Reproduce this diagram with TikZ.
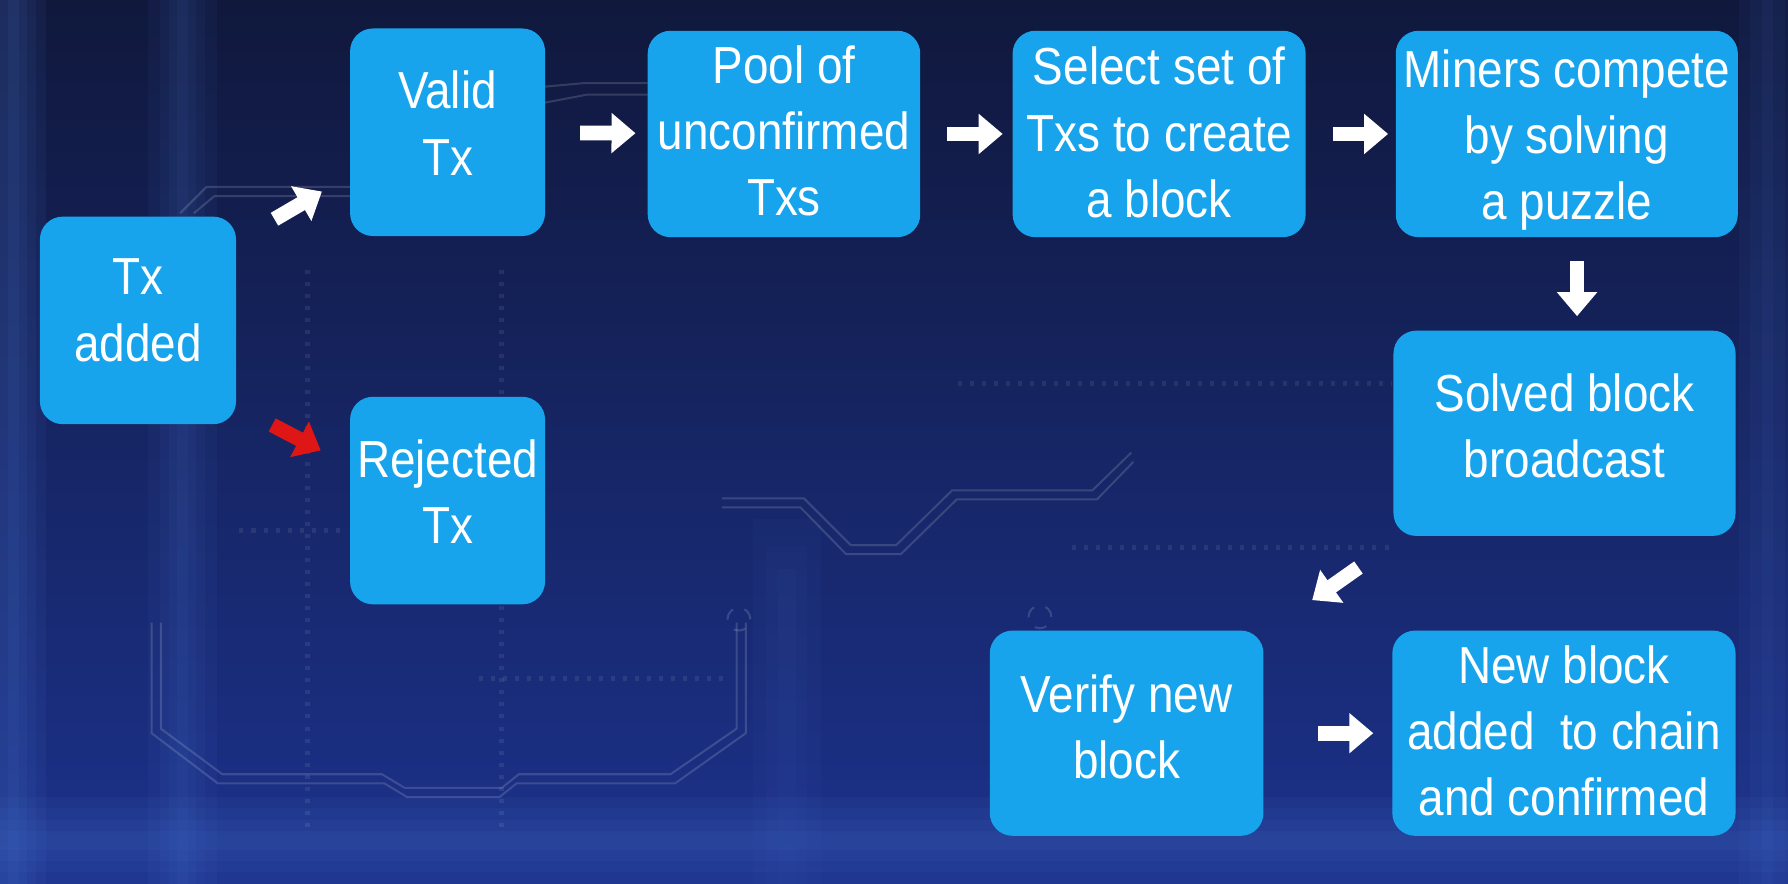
\documentclass[tikz,border=0pt]{standalone}
\usepackage{fontspec}
\newfontfamily\boxfont{Liberation Sans}[FakeStretch=0.88]
\usepackage{xcolor}
\usetikzlibrary{arrows.meta,positioning,calc}
\definecolor{boxblue}{RGB}{24,164,236}
\definecolor{bgtop}{RGB}{16,24,60}
\definecolor{bgmid}{RGB}{20,32,84}
\definecolor{bgbot}{RGB}{28,50,140}
\definecolor{stripe}{RGB}{80,125,215}
\definecolor{rejred}{RGB}{222,22,22}

\begin{document}
\begin{tikzpicture}[
		stepbox/.style={fill=boxblue,rounded corners=0.2cm,align=center,text=white,
			font=\boxfont\fontsize{13}{16.5}\selectfont,inner sep=0pt},
		lift/.style={execute at end node={\rule[-#1]{0pt}{#1}}},
		sink/.style={execute at end node={\rule{0pt}{#1}}},
		flow/.style={-{Triangle[length=0.21cm,width=0.34cm]},line width=0.13cm,white},
		trace/.style={white,opacity=0.15,line width=0.5pt},
		dots/.style={white,opacity=0.08,line width=1.2pt,dash pattern=on 1pt off 2pt}]
		\useasboundingbox (0,0) rectangle (15.68,7.75);
		% background
		\shade[top color=bgtop,middle color=bgmid,bottom color=bgbot] (0,0) rectangle (15.68,7.75);
		\foreach \w in {0.05,0.12,0.2,0.28}
			\fill[stripe,opacity=0.08] (0.12-\w,0) rectangle (0.12+\w,7.75);
		\foreach \w in {0.05,0.12,0.2,0.3}
			\fill[stripe,opacity=0.06] (1.6-\w,0) rectangle (1.6+\w,7.75);
		\foreach \w in {0.08,0.18,0.3}
			\fill[stripe,opacity=0.04] (6.9-\w,0) rectangle (6.9+\w,2.6+2*\w);
		\foreach \w in {0.05,0.15,0.25}
			\fill[stripe,opacity=0.06] (15.5-\w,0) rectangle (15.5+\w,7.75);
		\foreach \h in {0.08,0.18,0.28,0.38}
			\fill[stripe,opacity=0.07] (0,0.38-\h) rectangle (15.68,0.38+\h);
		% circuit traces
		\draw[trace] (1.33,2.29) -- (1.33,1.32) -- (1.91,0.88) -- (3.37,0.88) -- (3.57,0.76)
			-- (4.38,0.76) -- (4.53,0.88) -- (5.92,0.88) -- (6.54,1.32) -- (6.54,2.29);
		\draw[trace] (1.41,2.29) -- (1.41,1.36) -- (1.95,0.96) -- (3.35,0.96) -- (3.55,0.84)
			-- (4.40,0.84) -- (4.55,0.96) -- (5.88,0.96) -- (6.46,1.36) -- (6.46,2.29);
		\draw[trace] (6.33,3.38) -- (7.05,3.38) -- (7.46,2.97) -- (7.86,2.97) -- (8.35,3.45)
			-- (9.58,3.45) -- (9.92,3.78);
		\draw[trace] (6.33,3.30) -- (7.02,3.30) -- (7.42,2.89) -- (7.90,2.89) -- (8.39,3.37)
			-- (9.62,3.37) -- (9.94,3.70);
		\draw[trace] (1.58,5.88) -- (1.81,6.11) -- (3.07,6.11);
		\draw[trace] (1.70,5.88) -- (1.88,6.03) -- (3.07,6.03);
		\draw[trace] (4.78,6.99) -- (5.11,7.02) -- (5.68,7.02);
		\draw[trace] (4.78,6.85) -- (5.15,6.92) -- (5.68,6.92);
		\draw[trace,dashed] (6.48,2.32) circle (0.1);
		\draw[trace,dashed] (9.12,2.34) circle (0.1);
		\draw[dots] (8.40,4.39) -- (12.20,4.39);
		\draw[dots] (9.40,2.95) -- (12.20,2.95);
		\draw[dots] (2.10,3.10) -- (3.00,3.10);
		\draw[dots] (4.20,1.80) -- (6.40,1.80);
		\draw[dots] (2.70,0.50) -- (2.70,5.40);
		\draw[dots] (4.40,0.50) -- (4.40,5.40);
		% boxes
		\node[stepbox,lift=0.18cm,minimum width=1.72cm,minimum height=1.82cm] (tx) at (1.21,4.94) {Tx\\added};
		\node[stepbox,lift=0.16cm,minimum width=1.71cm,minimum height=1.82cm] (valid) at (3.925,6.59) {Valid\\Tx};
		\node[stepbox,lift=0.16cm,minimum width=1.71cm,minimum height=1.82cm] (rejected) at (3.925,3.36) {Rejected\\Tx};
		\node[stepbox,lift=0.06cm,minimum width=2.39cm,minimum height=1.81cm] (pool) at (6.875,6.575) {Pool of\\unconfirmed\\Txs};
		\node[stepbox,lift=0.03cm,minimum width=2.57cm,minimum height=1.81cm] (select) at (10.165,6.575) {Select set of\\Txs to create\\a block};
		\node[stepbox,sink=45.3pt,minimum width=3.00cm,minimum height=1.81cm] (miners) at (13.74,6.575) {Miners compete\\by solving\\a puzzle};
		\node[stepbox,lift=0.14cm,minimum width=3.00cm,minimum height=1.80cm] (solved) at (13.72,3.95) {Solved block\\broadcast};
		\node[stepbox,lift=0.12cm,minimum width=2.40cm,minimum height=1.80cm] (verify) at (9.88,1.32) {Verify new\\block};
		\node[stepbox,lift=0.04cm,minimum width=3.01cm,minimum height=1.80cm] (newblk) at (13.715,1.32) {New block\\added~ to chain\\and confirmed};
		% arrows
		\draw[flow] ([shift={(0.33,-0.03)}]tx.north east) -- ([shift={(-0.24,-0.52)}]valid.west);
		\draw[flow,rejred] ([shift={(0.31,0)}]tx.south east) -- ([shift={(-0.25,0.44)}]rejected.west);
		\draw[flow,shorten <=0.30cm,shorten >=0.10cm] (valid) -- (pool);
		\draw[flow,shorten <=0.23cm,shorten >=0.08cm] (pool) -- (select);
		\draw[flow,shorten <=0.23cm,shorten >=0.06cm] (select) -- (miners);
		\draw[flow] ([shift={(0.09,-0.20)}]miners.south) -- ([shift={(0.09,0.12)}]miners.south |- solved.north);
		\draw[flow] ([shift={(-0.30,-0.27)}]solved.south west) -- ([shift={(0.42,0.26)}]verify.north east);
		\draw[flow,shorten <=0.47cm,shorten >=0.16cm] (verify) -- (newblk);
	\end{tikzpicture}
\end{document}
